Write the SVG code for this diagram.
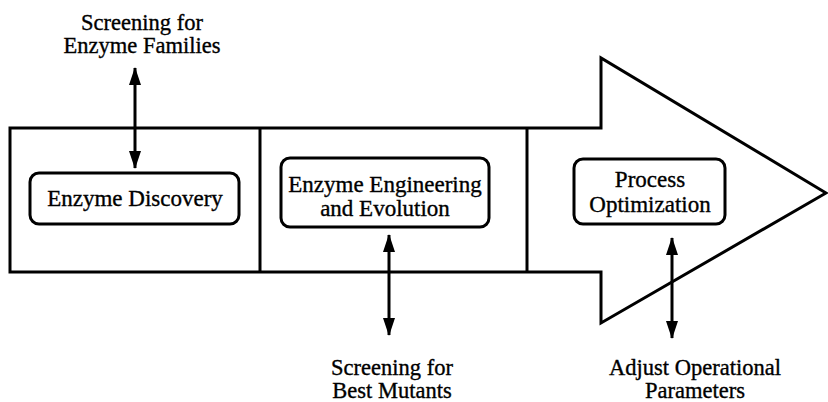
<svg xmlns="http://www.w3.org/2000/svg" width="828" height="402" viewBox="0 0 828 402">
<style>
.o{fill:none;stroke:#000;stroke-width:3;stroke-linejoin:miter}
.b{fill:#fff;stroke:#000;stroke-width:3}
.t{font-size:23px;fill:#000;text-anchor:middle;stroke:#000;stroke-width:0.35}
.l{font-size:22.5px}
.c{stroke:#000;stroke-width:3;fill:none;marker-start:url(#ah);marker-end:url(#ah)}
</style>
<defs>
<marker id="ah" viewBox="0 0 18 12" refX="17" refY="6" markerWidth="18" markerHeight="12" markerUnits="userSpaceOnUse" orient="auto-start-reverse">
<path d="M0,0 L18,6 L0,12 Z" fill="#000"/>
</marker>
</defs>
<g id="process-arrow">
<path class="o" d="M10,128 H601 V58 L826,193 L601,323 V272 H10 Z"/>
<line class="o" x1="260" y1="128" x2="260" y2="272"/>
<line class="o" x1="527" y1="128" x2="527" y2="272"/>
</g>
<g font-family="Liberation Serif, Times New Roman, serif">
<g id="enzyme-discovery">
<rect class="b" x="30" y="173" width="209" height="51" rx="9"/>
<text class="t" x="135" y="206">Enzyme Discovery</text>
</g>
<g id="enzyme-engineering">
<rect class="b" x="281" y="158" width="208" height="69" rx="9"/>
<text class="t" x="385" y="192">Enzyme Engineering</text>
<text class="t" x="385" y="216">and Evolution</text>
</g>
<g id="process-optimization">
<rect class="b" x="574" y="159" width="151" height="65" rx="9"/>
<text class="t" x="650" y="187">Process</text>
<text class="t" x="650" y="212">Optimization</text>
</g>
<g id="label-families">
<text class="t l" x="142" y="30">Screening for</text>
<text class="t l" x="142" y="53">Enzyme Families</text>
</g>
<g id="label-mutants">
<text class="t l" x="392" y="375">Screening for</text>
<text class="t l" x="392" y="398">Best Mutants</text>
</g>
<g id="label-parameters">
<text class="t l" x="695" y="375">Adjust Operational</text>
<text class="t l" x="695" y="398">Parameters</text>
</g>
</g>
<g id="connectors">
<line class="c" x1="135" y1="68" x2="135" y2="168"/>
<line class="c" x1="389" y1="235" x2="389" y2="335"/>
<line class="c" x1="672" y1="238" x2="672" y2="338"/>
</g>
</svg>
